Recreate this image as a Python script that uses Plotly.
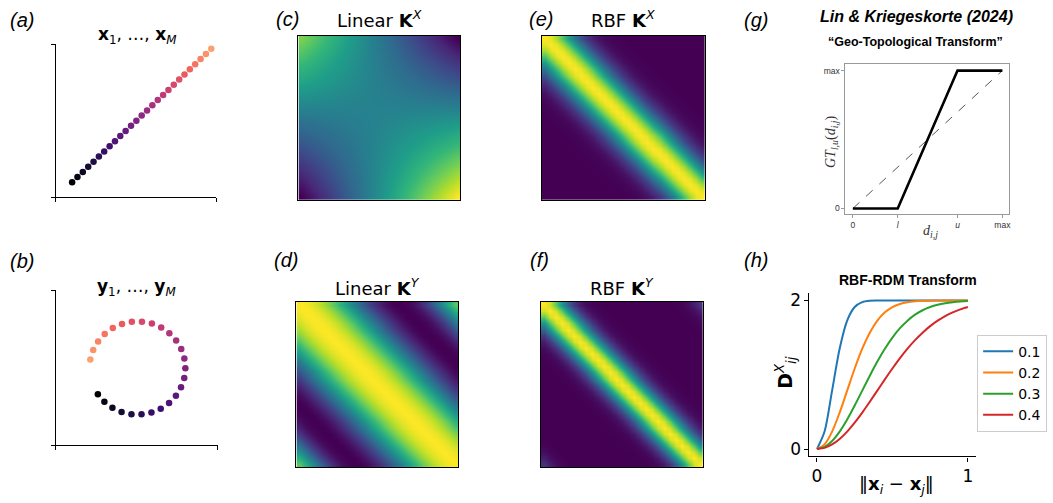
import plotly.graph_objects as go
import numpy as np

W, H = 1053, 503

# ---------------- data ----------------
# (a) points x_1..x_M lying on a line
line_x = [-0.800, -0.731, -0.662, -0.592, -0.523, -0.454, -0.385, -0.315, -0.246,
          -0.177, -0.108, -0.038, 0.031, 0.100, 0.169, 0.238, 0.308, 0.377,
          0.446, 0.515, 0.585, 0.654, 0.723, 0.792, 0.862, 0.931, 1.000]
line_y = [-0.800, -0.731, -0.662, -0.592, -0.523, -0.454, -0.385, -0.315, -0.246,
          -0.177, -0.108, -0.038, 0.031, 0.100, 0.169, 0.238, 0.308, 0.377,
          0.446, 0.515, 0.585, 0.654, 0.723, 0.792, 0.862, 0.931, 1.000]

# (b) points y_1..y_M lying on an open circle
circ_x = [-0.826, -0.690, -0.522, -0.331, -0.125, 0.085, 0.292, 0.486, 0.660,
          0.803, 0.910, 0.977, 1.000, 0.979, 0.914, 0.808, 0.666, 0.496,
          0.301, 0.094, -0.117, -0.322, -0.514, -0.683, -0.821, -0.923, -0.983]
circ_y = [-0.564, -0.724, -0.853, -0.944, -0.992, -0.996, -0.956, -0.874, -0.751,
          -0.596, -0.415, -0.215, -0.005, 0.206, 0.407, 0.589, 0.746, 0.869,
          0.954, 0.996, 0.993, 0.947, 0.858, 0.730, 0.571, 0.386, 0.184]
point_order = list(range(27))

# kernel profiles vs. index offset |i-j|
rbf_kx_profile = [1.000, 0.963, 0.860, 0.712, 0.547, 0.389, 0.257, 0.157, 0.089,
                  0.047, 0.023, 0.010, 0.004, 0.001, 0.0, 0.0, 0.0, 0.0,
                  0.0, 0.0, 0.0, 0.0, 0.0, 0.0, 0.0, 0.0, 0.0]
rbf_ky_profile = [1.000, 0.929, 0.744, 0.514, 0.306, 0.157, 0.070, 0.027, 0.009,
                  0.003, 0.0, 0.0, 0.0, 0.0, 0.0, 0.0, 0.0, 0.0,
                  0.0, 0.0, 0.0, 0.0, 0.003, 0.012, 0.035, 0.080, 0.150]
lin_ky_profile = [1.00, 0.99, 0.965, 0.925, 0.87, 0.80, 0.72, 0.63, 0.54,
                  0.44, 0.35, 0.26, 0.18, 0.11, 0.06, 0.02, 0.0, 0.0,
                  0.01, 0.04, 0.09, 0.17, 0.27, 0.39, 0.51, 0.63, 0.74]

# (g) geo-topological transform
gt_x = [0.0, 0.3, 0.7, 1.0]
gt_y = [0.0, 0.0, 1.0, 1.0]
gt_diag_x = [0.0, 1.0]
gt_diag_y = [0.0, 1.0]
gt_xtick_vals = [0.0, 0.3, 0.7, 1.0]
gt_xtick_text = ["0", "<i>l</i>", "<i>u</i>", "max"]
gt_ytick_vals = [0.0, 1.0]
gt_ytick_text = ["0", "max"]

# (h) RBF-RDM transform curves
dist = [0.00, 0.05, 0.10, 0.15, 0.20, 0.25, 0.30, 0.35, 0.40, 0.45, 0.50,
        0.55, 0.60, 0.65, 0.70, 0.75, 0.80, 0.85, 0.90, 0.95, 1.00]
sigmas = ["0.1", "0.2", "0.3", "0.4"]
rdm_01 = [0.0, 0.235, 0.787, 1.351, 1.729, 1.912, 1.978, 1.996, 1.999, 2.0, 2.0,
          2.0, 2.0, 2.0, 2.0, 2.0, 2.0, 2.0, 2.0, 2.0, 2.0]
rdm_02 = [0.0, 0.062, 0.235, 0.490, 0.787, 1.084, 1.351, 1.567, 1.729, 1.841, 1.912,
          1.954, 1.978, 1.990, 1.996, 1.998, 1.999, 2.0, 2.0, 2.0, 2.0]
rdm_03 = [0.0, 0.028, 0.108, 0.235, 0.399, 0.587, 0.787, 0.987, 1.178, 1.351, 1.501,
          1.627, 1.729, 1.809, 1.869, 1.912, 1.943, 1.964, 1.978, 1.987, 1.992]
rdm_04 = [0.0, 0.016, 0.062, 0.136, 0.235, 0.355, 0.490, 0.636, 0.787, 0.938, 1.084,
          1.223, 1.351, 1.466, 1.567, 1.655, 1.729, 1.791, 1.841, 1.881, 1.912]
rdm_curves = [rdm_01, rdm_02, rdm_03, rdm_04]
rdm_colors = ["#1f77b4", "#ff7f0e", "#2ca02c", "#d62728"]

# ---------------- derived matrices ----------------
X = np.column_stack([line_x, line_y])
lin_kx = X @ X.T
n = len(line_x)
idx = np.arange(n)
off = np.abs(idx[:, None] - idx[None, :])
rbf_kx = np.array(rbf_kx_profile)[off]
rbf_ky = np.array(rbf_ky_profile)[off]
lin_ky = np.array(lin_ky_profile)[off]

# ---------------- layout helpers ----------------
def dom_x(p0, p1):
    return [p0 / W, p1 / W]

def dom_y(p0, p1):
    return [1 - p1 / H, 1 - p0 / H]

boxes = {
    "a": (56, 216.7, 41.7, 196),
    "b": (56, 218.3, 290, 446.7),
    "c": (299, 461, 33, 199),
    "e": (543, 706, 33, 199),
    "d": (297, 459, 302, 469),
    "f": (542, 704, 302, 469),
    "g": (847, 1011, 62, 213),
    "h": (811, 978, 293, 458),
}
axis_ids = {"a": "", "b": "2", "c": "3", "e": "4", "d": "5", "f": "6", "g": "7", "h": "8"}

fig = go.Figure()
layout = dict(width=W, height=H, margin=dict(l=0, r=0, t=0, b=0),
              paper_bgcolor="white", plot_bgcolor="white", showlegend=True)

def ref(k):
    i = axis_ids[k]
    return ("x" + i, "y" + i)

# scatter panels
a_xr = [-1.010, 1.065]
a_yr = [-1.000, 1.061]
b_xr = [-1.702, 1.679]
b_yr = [-1.66, 1.674]
for key, xs, ys, xr, yr in [("a", line_x, line_y, a_xr, a_yr), ("b", circ_x, circ_y, b_xr, b_yr)]:
    xa, ya = ref(key)
    fig.add_trace(go.Scatter(x=xs, y=ys, mode="markers", xaxis=xa, yaxis=ya, showlegend=False,
                             marker=dict(size=6.5, color=point_order, colorscale="Magma",
                                         cmin=0, cmax=32.5, line=dict(width=0))))
    i = axis_ids[key]
    x0, x1, y0, y1 = boxes[key]
    common = dict(showgrid=False, zeroline=False, showline=True, linecolor="black", linewidth=1.2,
                  ticks="outside", ticklen=4, tickwidth=1, tickcolor="black", showticklabels=False)
    layout["xaxis" + i] = dict(domain=dom_x(x0, x1), range=xr, anchor="y" + i,
                               tickvals=xr, **common)
    layout["yaxis" + i] = dict(domain=dom_y(y0, y1), range=yr, anchor="x" + i,
                               tickvals=yr, **common)

# heatmaps
for key, z in [("c", lin_kx), ("e", rbf_kx), ("d", lin_ky), ("f", rbf_ky)]:
    xa, ya = ref(key)
    fig.add_trace(go.Heatmap(z=z, x=list(range(n)), y=list(range(n)), xaxis=xa, yaxis=ya,
                             colorscale="Viridis", showscale=False, zsmooth="best",
                             showlegend=False, hoverinfo="skip"))
    i = axis_ids[key]
    x0, x1, y0, y1 = boxes[key]
    common = dict(showgrid=False, zeroline=False, showline=True, mirror=True, linecolor="black",
                  linewidth=1.3, ticks="", showticklabels=False)
    layout["xaxis" + i] = dict(domain=dom_x(x0, x1), range=[-0.5, n - 0.5], anchor="y" + i, **common)
    layout["yaxis" + i] = dict(domain=dom_y(y0, y1), range=[n - 0.5, -0.5], anchor="x" + i, **common)

# (g) panel
xa, ya = ref("g")
fig.add_trace(go.Scatter(x=gt_diag_x, y=gt_diag_y, mode="lines", xaxis=xa, yaxis=ya, showlegend=False,
                         line=dict(color="#555555", width=1, dash="dash")))
fig.add_trace(go.Scatter(x=gt_x, y=gt_y, mode="lines", xaxis=xa, yaxis=ya, showlegend=False,
                         line=dict(color="black", width=2.6)))
x0, x1, y0, y1 = boxes["g"]
gfont = dict(family="Liberation Sans", size=8.5, color="#333333")
layout["xaxis7"] = dict(domain=dom_x(x0, x1), range=[-0.05, 1.045], anchor="y7", showgrid=False,
                        zeroline=False, showline=True, mirror=True, linecolor="#999999", linewidth=1,
                        ticks="outside", ticklen=3, tickcolor="#999999", tickvals=gt_xtick_vals,
                        ticktext=gt_xtick_text, tickfont=gfont)
layout["yaxis7"] = dict(domain=dom_y(y0, y1), range=[-0.039, 1.045], anchor="x7", showgrid=False,
                        zeroline=False, showline=True, mirror=True, linecolor="#999999", linewidth=1,
                        ticks="outside", ticklen=3, tickcolor="#999999", tickvals=gt_ytick_vals,
                        ticktext=gt_ytick_text, tickfont=gfont)

# (h) panel
xa, ya = ref("h")
for s, ys, c in zip(sigmas, rdm_curves, rdm_colors):
    fig.add_trace(go.Scatter(x=dist, y=ys, mode="lines", name=s, xaxis=xa, yaxis=ya,
                             line=dict(color=c, width=2, shape="spline", smoothing=0.8)))
x0, x1, y0, y1 = boxes["h"]
hfont = dict(family="DejaVu Sans", size=17, color="black")
layout["xaxis8"] = dict(domain=dom_x(x0, x1), range=[-0.05, 1.055], anchor="y8", showgrid=False,
                        zeroline=False, showline=True, linecolor="black", linewidth=1.2,
                        ticks="outside", ticklen=4, tickcolor="black", tickvals=[0, 1],
                        tickfont=hfont)
layout["yaxis8"] = dict(domain=dom_y(y0, y1), range=[-0.1, 2.1], anchor="x8", showgrid=False,
                        zeroline=False, showline=True, linecolor="black", linewidth=1.2,
                        ticks="outside", ticklen=4, tickcolor="black", tickvals=[0, 2],
                        tickfont=hfont)
layout["legend"] = dict(x=979 / W, y=1 - 335 / H, xanchor="left", yanchor="top",
                        bgcolor="white", bordercolor="#cccccc", borderwidth=1,
                        font=dict(family="DejaVu Sans", size=14, color="black"),
                        tracegroupgap=0, itemwidth=30)

# ---------------- text ----------------
ann = []

def text(px, py, s, size, family="DejaVu Sans", color="black", angle=0, xanchor="center"):
    ann.append(dict(x=px / W, y=1 - py / H, xref="paper", yref="paper", text=s, showarrow=False,
                    xanchor=xanchor, yanchor="middle", textangle=angle,
                    font=dict(family=family, size=size, color=color)))

# panel letters
for lab, px, py in [("(a)", 22, 17), ("(b)", 22, 261), ("(c)", 288, 16), ("(d)", 287, 260),
                    ("(e)", 542, 16), ("(f)", 541, 260), ("(g)", 757, 17), ("(h)", 757, 260)]:
    text(px, py, "<i>" + lab + "</i>", 20, family="Liberation Sans")

text(137, 33, "<b>x</b><sub>1</sub>, …, <b>x</b><sub><i>M</i></sub>", 17)
text(137, 287, "<b>y</b><sub>1</sub>, …, <b>y</b><sub><i>M</i></sub>", 17)
text(380, 16, "Linear <b>K</b><sup><i>X</i></sup>", 18)
text(624, 16, "RBF <b>K</b><sup><i>X</i></sup>", 18)
text(378, 287, "Linear <b>K</b><sup><i>Y</i></sup>", 18)
text(623, 287, "RBF <b>K</b><sup><i>Y</i></sup>", 18)

text(918, 14, "<b><i>Lin &amp; Kriegeskorte (2024)</i></b>", 16, family="Liberation Sans")
text(917, 39, "<b>“Geo-Topological Transform”</b>", 12.5, family="Liberation Sans")
text(932, 231, "<i>d</i><sub><i>i,j</i></sub>", 14, family="Liberation Serif", color="#333333")
text(833, 140, "<i>GT</i><sub><i>l,u</i></sub>(<i>d</i><sub><i>i,j</i></sub>)", 14,
     family="Liberation Serif", color="#333333", angle=-90)

text(910, 280, "<b>RBF-RDM Transform</b>", 14, family="Liberation Sans")
text(898, 487, "‖<b>x</b><sub><i>i</i></sub> − <b>x</b><sub><i>j</i></sub>‖", 18)
text(787, 373, "<b>D</b><sup><i>X</i></sup><sub><i>ij</i></sub>", 19, angle=-90)

layout["annotations"] = ann
fig.update_layout(**layout)
fig.write_html("out.html", config={"displayModeBar": False},
               post_script="document.body.style.margin='0';document.body.style.overflow='hidden';")
